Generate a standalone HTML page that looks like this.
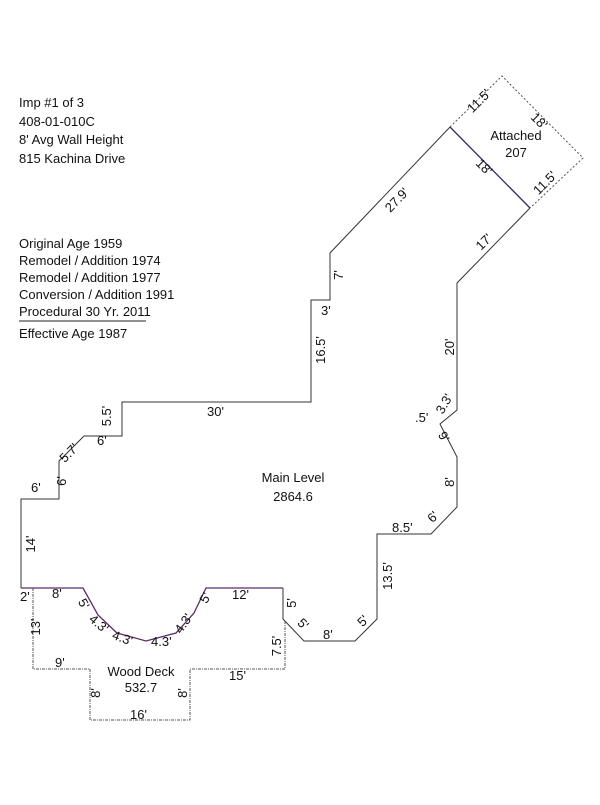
<!DOCTYPE html>
<html><head><style>
body{margin:0;background:#fff}
svg text{font-family:"Liberation Sans",Arial,sans-serif;font-size:13px;fill:#111}
</style></head><body>
<svg width="600" height="800" xmlns="http://www.w3.org/2000/svg">
<g font-size="13">
<text x="19" y="107">Imp #1 of 3</text>
<text x="19" y="126">408-01-010C</text>
<text x="19" y="144">8' Avg Wall Height</text>
<text x="19" y="163">815 Kachina Drive</text>
<text x="19" y="248">Original Age 1959</text>
<text x="19" y="265">Remodel / Addition 1974</text>
<text x="19" y="282">Remodel / Addition 1977</text>
<text x="19" y="299">Conversion / Addition 1991</text>
<text x="19" y="316">Procedural 30 Yr. 2011</text>
<text x="19" y="338">Effective Age 1987</text>
</g>
<line x1="19" y1="321" x2="146" y2="321" stroke="#222" stroke-width="1"/>
<g fill="none" stroke-width="1">
<path d="M21,588 V499 H59 V461 L84,436 H122 V402 H311 V300 H330 V253 L450,127 M530,208 L457,283 V410 L440,424 L457,457 V507 L431,534 H377 V619 L355,641 H304 L283,619 V588" stroke="#333"/>
<path d="M283,588 H206 L194,613 L176,633 L146,641 L117,633 L98,615 L83,588 H21" stroke="#5a2a6a" stroke-width="1.3"/>
<line x1="450" y1="127" x2="530" y2="208" stroke="#2a2a6a" stroke-width="1.3"/>
<path d="M450,127 L502,76 L583,158 L530,208" stroke="#555" stroke-dasharray="2,2"/>
<path d="M33,588 V669 H90 V720 H190 V669 H285 V620" stroke="#555" stroke-dasharray="3,1,1,1"/>
</g>
<text x="516" y="140" text-anchor="middle">Attached</text>
<text x="516" y="157" text-anchor="middle">207</text>
<text x="293" y="482" text-anchor="middle">Main Level</text>
<text x="293" y="501" text-anchor="middle">2864.6</text>
<text x="141" y="676" text-anchor="middle">Wood Deck</text>
<text x="141" y="692" text-anchor="middle">532.7</text>
<g font-size="12">
<text transform="translate(482,104) rotate(-45)" text-anchor="middle">11.5'</text>
<text transform="translate(536,124) rotate(45)" text-anchor="middle">18'</text>
<text transform="translate(481,170) rotate(45)" text-anchor="middle">18'</text>
<text transform="translate(548,186) rotate(-45)" text-anchor="middle">11.5'</text>
<text transform="translate(400,203) rotate(-46)" text-anchor="middle">27.9'</text>
<text transform="translate(487,245) rotate(-45)" text-anchor="middle">17'</text>
<text transform="translate(343,275) rotate(-90)" text-anchor="middle">7'</text>
<text x="321" y="315">3'</text>
<text transform="translate(325,350) rotate(-90)" text-anchor="middle">16.5'</text>
<text transform="translate(454,347) rotate(-90)" text-anchor="middle">20'</text>
<text x="415" y="422">.5'</text>
<text transform="translate(448,406) rotate(-60)" text-anchor="middle">3.3'</text>
<text transform="translate(440,439) rotate(60)" text-anchor="middle">9'</text>
<text transform="translate(454,482) rotate(-90)" text-anchor="middle">8'</text>
<text transform="translate(436,520) rotate(-45)" text-anchor="middle">6'</text>
<text x="392" y="532">8.5'</text>
<text transform="translate(392,576) rotate(-90)" text-anchor="middle">13.5'</text>
<text transform="translate(366,624) rotate(-45)" text-anchor="middle">5'</text>
<text x="323" y="639">8'</text>
<text transform="translate(300,627) rotate(45)" text-anchor="middle">5'</text>
<text transform="translate(296,603) rotate(-90)" text-anchor="middle">5'</text>
<text transform="translate(281,646) rotate(-90)" text-anchor="middle">7.5'</text>
<text x="229" y="680">15'</text>
<text x="232" y="599">12'</text>
<text transform="translate(209,600) rotate(-60)" text-anchor="middle">5'</text>
<text transform="translate(187,626) rotate(-55)" text-anchor="middle">4.3'</text>
<text x="151" y="646">4.3'</text>
<text transform="translate(121,642) rotate(20)" text-anchor="middle">4.3'</text>
<text transform="translate(96,627) rotate(40)" text-anchor="middle">4.3'</text>
<text transform="translate(80,606) rotate(60)" text-anchor="middle">5'</text>
<text x="52" y="598">8'</text>
<text x="20" y="601">2'</text>
<text transform="translate(40,627) rotate(-90)" text-anchor="middle">13'</text>
<text x="55" y="667">9'</text>
<text transform="translate(100,693) rotate(-90)" text-anchor="middle">8'</text>
<text transform="translate(187,693) rotate(-90)" text-anchor="middle">8'</text>
<text x="130" y="719">16'</text>
<text transform="translate(35,544) rotate(-90)" text-anchor="middle">14'</text>
<text x="31" y="492">6'</text>
<text transform="translate(66,481) rotate(-90)" text-anchor="middle">6'</text>
<text transform="translate(72,456) rotate(-45)" text-anchor="middle">5.7'</text>
<text x="97" y="445">6'</text>
<text transform="translate(111,416) rotate(-90)" text-anchor="middle">5.5'</text>
<text x="207" y="416">30'</text>
</g>
</svg>
</body></html>
